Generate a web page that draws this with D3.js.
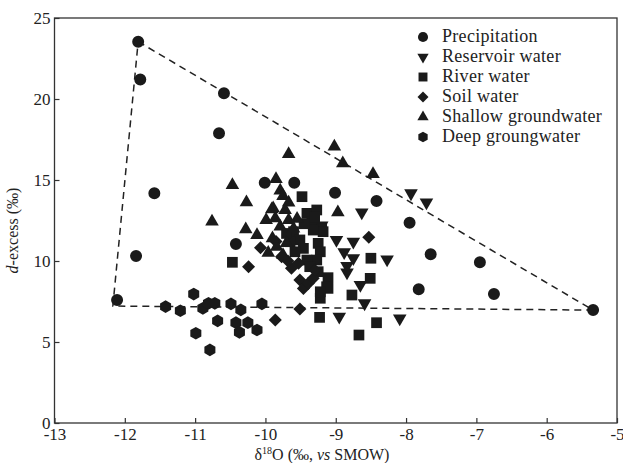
<!DOCTYPE html>
<html>
<head>
<meta charset="utf-8">
<script src="https://cdn.jsdelivr.net/npm/d3@7"></script>
<style>
  body { margin: 0; background: #fff; }
  svg text { font-family: "Liberation Serif", "Times New Roman", serif !important; fill: #222; }
</style>
</head>
<body>
<div id="chart"></div>
<script>
const width = 623;
const height = 463;
const margin = { top: 18, right: 6, bottom: 40, left: 54.5 };

const xTicks = [-13, -12, -11, -10, -9, -8, -7, -6, -5];
const yTicks = [0, 5, 10, 15, 20, 25];

const precipitation = [
  [-11.81, 23.54], [-11.78, 21.2], [-10.59, 20.35], [-10.66, 17.88], [-11.58, 14.18],
  [-10.01, 14.83], [-9.59, 14.83], [-11.84, 10.31], [-12.11, 7.59], [-10.42, 11.05],
  [-9.01, 14.22], [-8.42, 13.7], [-7.95, 12.36], [-7.65, 10.41], [-6.95, 9.92],
  [-7.82, 8.25], [-6.75, 7.96], [-5.34, 6.97]
];
const reservoir = [
  [-7.93, 14.18], [-7.71, 13.62], [-8.63, 13.0], [-8.99, 11.3], [-8.75, 11.19],
  [-8.88, 10.54], [-8.75, 10.17], [-8.27, 10.1], [-8.84, 9.69], [-8.84, 9.3],
  [-8.65, 8.52], [-8.59, 7.39], [-8.95, 6.56], [-8.09, 6.46], [-9.2, 12.2]
];
const river = [
  [-8.5, 10.17], [-8.51, 8.93], [-8.77, 7.9], [-9.23, 6.52], [-8.42, 6.19],
  [-8.67, 5.43], [-9.11, 8.97], [-9.11, 8.31], [-9.22, 7.7], [-9.48, 13.97],
  [-10.47, 9.92], [-9.41, 12.94], [-9.27, 13.15], [-9.34, 12.43], [-9.2, 12.0],
  [-9.18, 11.81], [-9.32, 11.91], [-9.6, 11.81], [-9.51, 11.3], [-9.65, 11.19],
  [-9.46, 10.78], [-9.25, 11.09], [-9.22, 10.57], [-9.27, 10.06], [-9.41, 10.06],
  [-9.37, 9.65], [-9.25, 9.34], [-9.13, 8.41], [-9.22, 8.1], [-9.7, 11.7],
  [-9.58, 10.57], [-9.3, 12.7], [-9.45, 12.3]
];
const soil = [
  [-10.07, 10.82], [-10.24, 9.65], [-9.86, 6.36], [-9.51, 7.04], [-8.53, 11.46],
  [-9.77, 10.27], [-9.63, 9.55], [-9.53, 9.86], [-9.51, 8.83], [-9.46, 8.31],
  [-9.39, 8.62], [-9.32, 8.93], [-9.3, 9.44], [-9.85, 11.2], [-9.68, 10.0]
];
const shallow = [
  [-9.67, 16.6], [-10.47, 14.69], [-10.27, 13.62], [-9.85, 15.06], [-9.79, 14.34],
  [-9.02, 17.06], [-8.9, 16.03], [-8.47, 15.37], [-8.97, 13.0], [-10.76, 12.43],
  [-10.28, 11.96], [-10.12, 11.6], [-9.75, 14.0], [-9.67, 13.6], [-9.91, 13.19],
  [-9.72, 13.15], [-9.99, 12.53], [-9.86, 12.64], [-9.67, 12.53], [-9.79, 12.12],
  [-9.84, 10.88], [-9.96, 10.51], [-9.75, 10.37], [-9.89, 13.25], [-9.6, 12.0],
  [-9.9, 11.4], [-9.7, 11.1], [-9.55, 12.6]
];
const deep = [
  [-11.42, 7.18], [-11.21, 6.93], [-11.02, 7.96], [-10.89, 7.08], [-10.81, 7.39],
  [-10.72, 7.39], [-10.68, 6.3], [-10.99, 5.54], [-10.79, 4.51], [-10.49, 7.35],
  [-10.35, 6.98], [-10.42, 6.19], [-10.37, 5.6], [-10.25, 6.19], [-10.12, 5.74],
  [-10.05, 7.35]
];
// triangle outline: top, right, bottom-left, back to top
const outline = [[-11.81, 23.54], [-5.34, 6.97], [-12.17, 7.22], [-11.81, 23.54]];

const legendNames = ['Precipitation', 'Reservoir water', 'River water', 'Soil water',
  'Shallow groundwater', 'Deep groungwater'];

const hexagon = {
  draw(ctx, size) {
    const r = Math.sqrt(size / (1.5 * Math.sqrt(3)));
    for (let i = 0; i < 6; i++) {
      const a = Math.PI / 6 + i * Math.PI / 3;
      const px = r * Math.cos(a), py = r * Math.sin(a);
      if (i === 0) ctx.moveTo(px, py); else ctx.lineTo(px, py);
    }
    ctx.closePath();
  }
};

const series = [
  { data: precipitation, type: d3.symbolCircle, size: 113, rot: 0, lsize: 80 },
  { data: reservoir, type: d3.symbolTriangle, size: 80, rot: 180, lsize: 55 },
  { data: river, type: d3.symbolSquare, size: 115, rot: 0, lsize: 80 },
  { data: soil, type: d3.symbolSquare, size: 85, rot: 45, lsize: 60 },
  { data: shallow, type: d3.symbolTriangle, size: 80, rot: 0, lsize: 55 },
  { data: deep, type: hexagon, size: 105, rot: 0, lsize: 75 }
];

const svg = d3.select('#chart').append('svg')
  .attr('width', width)
  .attr('height', height);

const x = d3.scaleLinear().domain([-13, -5]).range([margin.left, width - margin.right]);
const y = d3.scaleLinear().domain([0, 25]).range([height - margin.bottom, margin.top]);

// frame
svg.append('rect')
  .attr('x', x(-13)).attr('y', y(25))
  .attr('width', x(-5) - x(-13)).attr('height', y(0) - y(25))
  .attr('fill', 'none').attr('stroke', '#333').attr('stroke-width', 1.3);

const xAxis = svg.append('g')
  .attr('transform', `translate(0,${y(0)})`)
  .call(d3.axisBottom(x).tickValues(xTicks).tickSize(-5).tickPadding(5).tickFormat(d => String(d)));
xAxis.select('.domain').remove();
xAxis.selectAll('line').attr('stroke', '#333').attr('stroke-width', 1.2);
xAxis.selectAll('text').style('font-size', '17px').attr('fill', '#222');

const yAxis = svg.append('g')
  .attr('transform', `translate(${x(-13)},0)`)
  .call(d3.axisLeft(y).tickValues(yTicks).tickSize(-5).tickPadding(4));
yAxis.select('.domain').remove();
yAxis.selectAll('line').attr('stroke', '#333').attr('stroke-width', 1.2);
yAxis.selectAll('text').style('font-size', '17px').attr('fill', '#222');

// axis titles
const xt = svg.append('text')
  .attr('x', 322).attr('y', 460)
  .attr('text-anchor', 'middle')
  .style('font-size', '16px');
xt.append('tspan').text('δ');
xt.append('tspan').attr('dy', -6).style('font-size', '10px').text('18');
xt.append('tspan').attr('dy', 6).text('O (‰, ');
xt.append('tspan').style('font-style', 'italic').text('vs');
xt.append('tspan').text(' SMOW)');

const yt = svg.append('text')
  .attr('transform', `translate(18,${(y(0) + y(25)) / 2 + 10}) rotate(-90)`)
  .attr('text-anchor', 'middle')
  .style('font-size', '16px');
yt.append('tspan').style('font-style', 'italic').text('d');
yt.append('tspan').text('-excess (‰)');

// dashed outline
svg.append('path')
  .datum(outline)
  .attr('d', d3.line().x(d => x(d[0])).y(d => y(d[1])))
  .attr('fill', 'none')
  .attr('stroke', '#222')
  .attr('stroke-width', 1.5)
  .attr('stroke-dasharray', '7,5');

// points
series.forEach(s => {
  svg.append('g').selectAll('path')
    .data(s.data)
    .enter()
    .append('path')
    .attr('d', d3.symbol().type(s.type).size(s.size))
    .attr('transform', d => `translate(${x(d[0])},${y(d[1])}) rotate(${s.rot})`)
    .attr('fill', '#1a1a1a');
});

// legend
const legend = svg.append('g').attr('transform', 'translate(423,37)');
series.forEach((s, i) => {
  const row = legend.append('g').attr('transform', `translate(0,${i * 20})`);
  row.append('path')
    .attr('d', d3.symbol().type(s.type).size(s.lsize))
    .attr('transform', `rotate(${s.rot})`)
    .attr('fill', '#1a1a1a');
  row.append('text')
    .attr('x', 19).attr('y', 5)
    .style('font-size', '18px')
    .style('letter-spacing', '0.3px')
    .text(legendNames[i]);
});
</script>
</body>
</html>
